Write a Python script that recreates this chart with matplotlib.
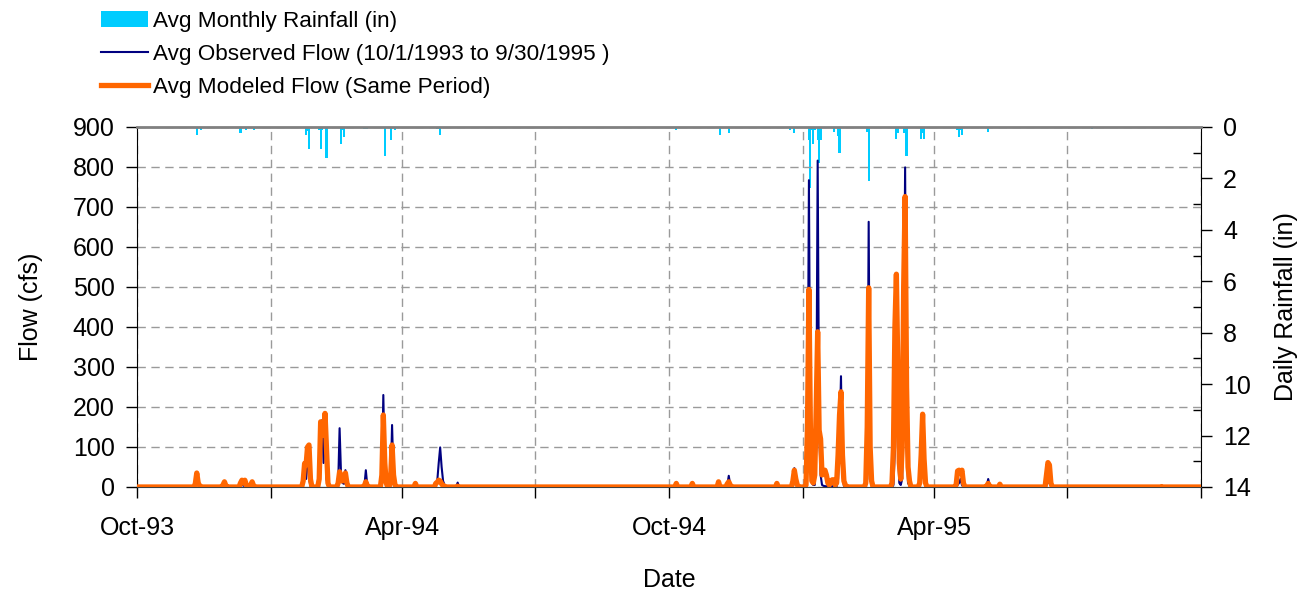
import matplotlib
matplotlib.use("Agg")
import matplotlib.pyplot as plt
from matplotlib.patches import Patch
from matplotlib.lines import Line2D
import pandas as pd

plt.rcParams['font.family'] = ['Liberation Sans', 'DejaVu Sans']

# ---------------- data ----------------
start_date = '1993-10-01'
end_date = '1995-09-30'

flow_dates = [
    '1993-11-10', '1993-11-11', '1993-11-12', '1993-11-13',
    '1993-11-29', '1993-11-30', '1993-12-01',
    '1993-12-11', '1993-12-12', '1993-12-13', '1993-12-14', '1993-12-15',
    '1993-12-18', '1993-12-19', '1993-12-20',
    '1994-01-23', '1994-01-24', '1994-01-25', '1994-01-26', '1994-01-27', '1994-01-28',
    '1994-02-03', '1994-02-04', '1994-02-05', '1994-02-06', '1994-02-07', '1994-02-08', '1994-02-09',
    '1994-02-16', '1994-02-17', '1994-02-18', '1994-02-19', '1994-02-20', '1994-02-21', '1994-02-22',
    '1994-03-06', '1994-03-07', '1994-03-08',
    '1994-03-18', '1994-03-19', '1994-03-20', '1994-03-21',
    '1994-03-24', '1994-03-25', '1994-03-26', '1994-03-27',
    '1994-04-10',
    '1994-04-24', '1994-04-25', '1994-04-26', '1994-04-27', '1994-04-28', '1994-04-29', '1994-04-30',
    '1994-05-09',
    '1994-10-06', '1994-10-17', '1994-11-04',
    '1994-11-10', '1994-11-11', '1994-11-12',
    '1994-12-14',
    '1994-12-25', '1994-12-26', '1994-12-27', '1994-12-28',
    '1995-01-03', '1995-01-04', '1995-01-05', '1995-01-06', '1995-01-07', '1995-01-08',
    '1995-01-09', '1995-01-10', '1995-01-11', '1995-01-12', '1995-01-13', '1995-01-14',
    '1995-01-15', '1995-01-16', '1995-01-17', '1995-01-18', '1995-01-19', '1995-01-20',
    '1995-01-21', '1995-01-22', '1995-01-23', '1995-01-24', '1995-01-25', '1995-01-26',
    '1995-01-27', '1995-01-28', '1995-01-29', '1995-01-30',
    '1995-02-13', '1995-02-14', '1995-02-15', '1995-02-16', '1995-02-17',
    '1995-03-03', '1995-03-04', '1995-03-05', '1995-03-06', '1995-03-07', '1995-03-08',
    '1995-03-09', '1995-03-10', '1995-03-11', '1995-03-12', '1995-03-13', '1995-03-14', '1995-03-15',
    '1995-03-22', '1995-03-23', '1995-03-24', '1995-03-25', '1995-03-26',
    '1995-04-16', '1995-04-17', '1995-04-18', '1995-04-19', '1995-04-20', '1995-04-21',
    '1995-05-07', '1995-05-08', '1995-05-09',
    '1995-05-16',
    '1995-06-17', '1995-06-18', '1995-06-19', '1995-06-20',
    '1995-09-04',
]
observed_cfs = [
    5, 37, 8, 0,
    2, 5, 0,
    3, 8, 3, 5, 2,
    2, 5, 0,
    10, 55, 20, 100, 20, 3,
    10, 160, 167, 60, 175, 20, 3,
    5, 147, 30, 10, 8, 42, 5,
    2, 42, 3,
    20, 230, 40, 5,
    5, 155, 20, 2,
    2,
    5, 15, 60, 99, 50, 15, 5,
    11,
    2, 2, 5,
    5, 28, 5,
    2,
    10, 47, 15, 5,
    0, 60, 767, 100, 10, 5,
    5, 100, 816, 150, 30, 5,
    3, 2, 2, 2, 2, 2,
    2, 2, 2, 2, 20, 120,
    277, 30, 3, 0,
    0, 20, 663, 30, 3,
    0, 5, 100, 480, 100, 10,
    5, 20, 300, 799, 100, 10, 3,
    10, 90, 60, 20, 3,
    0, 5, 10, 20, 5, 0,
    2, 20, 3,
    2,
    5, 15, 10, 3,
    4,
]
modeled_cfs = [
    8, 35, 10, 3,
    5, 13, 3,
    10, 17, 10, 17, 5,
    5, 13, 3,
    15, 59, 55, 100, 105, 20,
    20, 163, 150, 130, 184, 100, 10,
    10, 38, 20, 15, 25, 35, 10,
    3, 13, 3,
    30, 180, 60, 10,
    20, 105, 30, 5,
    9,
    9, 12, 17, 15, 8, 3, 2,
    2,
    9, 9, 13,
    8, 13, 5,
    9,
    15, 42, 20, 5,
    5, 150, 494, 150, 15, 10,
    30, 200, 388, 142, 120, 30,
    40, 42, 30, 10, 5, 15,
    18, 18, 5, 10, 80, 180,
    238, 80, 15, 5,
    10, 150, 498, 100, 15,
    10, 100, 400, 532, 300, 60,
    20, 100, 500, 726, 250, 50, 15,
    10, 80, 182, 70, 10,
    5, 40, 42, 35, 42, 10,
    3, 9, 2,
    7,
    30, 61, 55, 10,
    1,
]

rain_dates = [
    '1993-10-17', '1993-11-11', '1993-11-14', '1993-11-29', '1993-12-11', '1993-12-15',
    '1993-12-20', '1994-01-25', '1994-01-26', '1994-01-27', '1994-02-03', '1994-02-04',
    '1994-02-05', '1994-02-08', '1994-02-18', '1994-02-19', '1994-02-20', '1994-03-06',
    '1994-03-07', '1994-03-08', '1994-03-20', '1994-03-24', '1994-03-27', '1994-04-11',
    '1994-04-25', '1994-04-26', '1994-04-27', '1994-08-13', '1994-10-05', '1994-10-06',
    '1994-10-17', '1994-11-05', '1994-11-11', '1994-11-27', '1994-12-14', '1994-12-23',
    '1994-12-26', '1995-01-05', '1995-01-06', '1995-01-07', '1995-01-08', '1995-01-09',
    '1995-01-11', '1995-01-12', '1995-01-13', '1995-01-16', '1995-01-22', '1995-01-25',
    '1995-01-26', '1995-02-14', '1995-02-15', '1995-03-06', '1995-03-07', '1995-03-11',
    '1995-03-13', '1995-03-23', '1995-03-24', '1995-03-25', '1995-04-17', '1995-04-18',
    '1995-04-19', '1995-04-20', '1995-05-08', '1995-07-18',
]
rain_in = [
    0.05, 0.31, 0.12, 0.05, 0.23, 0.12,
    0.12, 0.31, 0.15, 0.86, 0.10, 0.86,
    0.10, 1.19, 0.66, 0.10, 0.38, 0.08,
    0.08, 0.08, 1.12, 0.50, 0.12, 0.05,
    0.08, 0.08, 0.31, 0.05, 0.05, 0.12,
    0.05, 0.31, 0.22, 0.05, 0.05, 0.10,
    0.22, 0.50, 2.36, 0.10, 0.66, 0.10,
    0.50, 1.40, 0.50, 0.05, 0.18, 0.35,
    1.02, 0.18, 2.10, 0.47, 0.22, 0.22,
    1.12, 0.47, 0.22, 0.47, 0.12, 0.38,
    0.12, 0.31, 0.18, 0.09,
]

x_tick_dates = ['1993-10-01', '1994-01-01', '1994-04-01', '1994-07-01', '1994-10-01',
                '1995-01-01', '1995-04-01', '1995-07-01', '1995-10-01']
x_tick_labels = ['Oct-93', '', 'Apr-94', '', 'Oct-94', '', 'Apr-95', '', '']
flow_ticks = [0, 100, 200, 300, 400, 500, 600, 700, 800, 900]
rain_ticks = [0, 2, 4, 6, 8, 10, 12, 14]
rain_minor_ticks = [1, 3, 5, 7, 9, 11, 13]

# ---------------- build daily series ----------------
days = pd.date_range(start_date, end_date, freq='D')
obs = pd.Series(0.0, index=days)
mod = pd.Series(0.0, index=days)
obs.loc[pd.to_datetime(flow_dates)] = observed_cfs
mod.loc[pd.to_datetime(flow_dates)] = modeled_cfs

CYAN = '#00CCFF'
NAVY = '#000080'
ORANGE = '#FF6600'
GRID = '#9a9a9a'
FS = 18

fig = plt.figure(figsize=(13.08, 5.94), dpi=100)
ax = fig.add_axes([137 / 1308, 1 - 487 / 594, 1064 / 1308, 360 / 594])
ax2 = ax.twinx()

# rainfall bars hanging from the top on the right (inverted) axis
ax2.bar(pd.to_datetime(rain_dates), rain_in, width=1.5, color=CYAN, linewidth=0, align='center')
ax2.set_ylim(14, 0)
ax2.set_yticks(rain_ticks)
ax2.set_yticks(rain_minor_ticks, minor=True)
ax2.tick_params(axis='y', which='major', direction='out', length=8, width=1, pad=8, labelsize=FS)
ax2.tick_params(axis='y', which='minor', direction='in', length=6, width=1)
ax2.set_ylabel('Daily Rainfall (in)', fontsize=FS)
ax2.yaxis.set_label_coords(1.069, 0.5)
for s in ['top', 'left', 'bottom']:
    ax2.spines[s].set_visible(False)
ax2.spines['right'].set_color('black')

# flows in front of the rain bars
ax.set_zorder(ax2.get_zorder() + 1)
ax.patch.set_visible(False)
ax.plot(obs.index, obs.values, color=NAVY, lw=1.5, zorder=3)
ax.plot(mod.index, mod.values, color=ORANGE, lw=3.8, zorder=4, solid_joinstyle='round')

ax.set_xlim(pd.Timestamp('1993-10-01'), pd.Timestamp('1995-10-01'))
ax.set_ylim(0, 900)
ax.set_yticks(flow_ticks)
ax.set_xticks(pd.to_datetime(x_tick_dates))
ax.set_xticklabels(x_tick_labels)
ax.tick_params(axis='y', direction='out', length=8, width=1, pad=8, labelsize=FS)
ax.tick_params(axis='x', direction='out', length=8, width=1, pad=13, labelsize=FS)
ax.grid(True, which='major', color=GRID, linestyle=(0, (6, 4)), lw=1)
ax.set_axisbelow(True)

ax.spines['top'].set_color('#808080')
ax.spines['top'].set_linewidth(2)
ax.spines['right'].set_visible(False)
ax.spines['left'].set_color('black')
ax.spines['bottom'].set_color('#404040')

ax.set_xlabel('Date', fontsize=FS)
ax.xaxis.set_label_coords(0.5, -0.225)
ax.set_ylabel('Flow (cfs)', fontsize=FS)
ax.yaxis.set_label_coords(-0.088, 0.5)

handles = [Patch(facecolor=CYAN, edgecolor='none'),
           Line2D([], [], color=NAVY, lw=1.5),
           Line2D([], [], color=ORANGE, lw=3.8)]
labels = ['Avg Monthly Rainfall (in)',
          'Avg Observed Flow (10/1/1993 to 9/30/1995 )',
          'Avg Modeled Flow (Same Period)']
fig.legend(handles, labels, loc='upper left', bbox_to_anchor=(96 / 1308, 1 - 6 / 594),
           frameon=False, fontsize=16.2, handlelength=2.1, handletextpad=0.25,
           labelspacing=0.55, borderpad=0.2, borderaxespad=0)

fig.savefig('out.png', dpi=100)
